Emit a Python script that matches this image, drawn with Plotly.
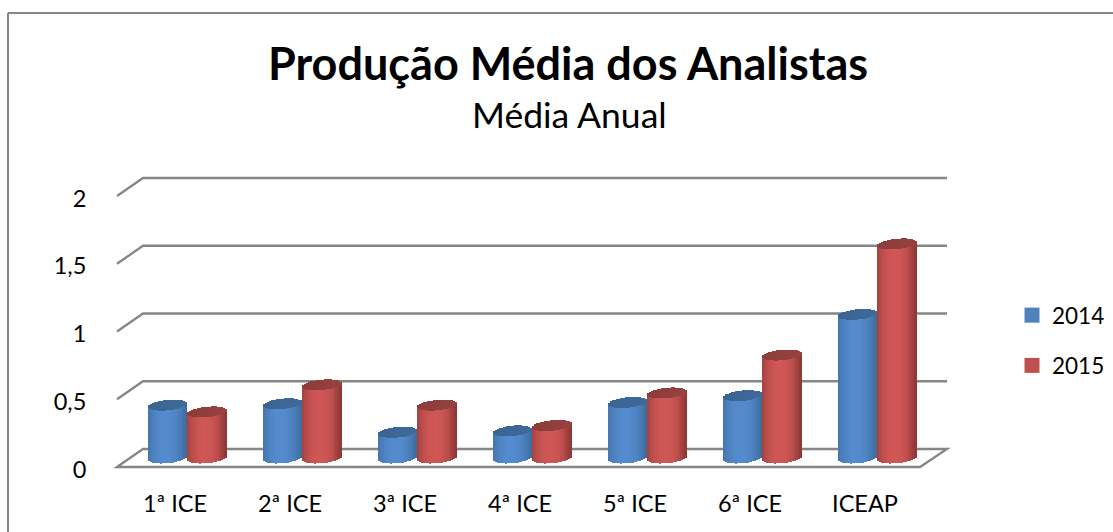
import math
import plotly.graph_objects as go

categories = ["1ª ICE", "2ª ICE", "3ª ICE", "4ª ICE", "5ª ICE", "6ª ICE", "ICEAP"]
values_2014 = [0.39, 0.40, 0.19, 0.20, 0.41, 0.46, 1.06]
values_2015 = [0.34, 0.54, 0.39, 0.24, 0.48, 0.76, 1.58]
y_ticks = [0, 0.5, 1, 1.5, 2]
y_labels = ["0", "0,5", "1", "1,5", "2"]

W, H = 1113, 532
PL, PR, PT, PB = 100, 1110, 170, 475    # plot box in page pixels
X0, XS = 187, 115                       # pixel of category 0, px per category
Y0, YS = 458, 135.5                     # pixel of value 0, px per unit
GRID = "#868686"
FONT = "Lato, Carlito, Calibri, sans-serif"

def dx(px):
    return px / XS

def dy(px):
    return px / YS

xrange_ = [(PL - X0) / XS, (PR - X0) / XS]
yrange_ = [(Y0 - PB) / YS, (Y0 - PT) / YS]
DEPTH = dy(9)
LABEL_DROP = dy(11.5)

R, B, TILT = 19.5, 5.2, 1.8
N = 20

def lerp(a, b, t):
    return "#%02x%02x%02x" % tuple(round(a[k] + (b[k] - a[k]) * t) for k in range(3))

def shade(u, dark, light):
    t = max(0.0, 1 - (abs(u + 0.1) / 1.1) ** 2.2)
    return lerp(dark, light, t)

def cylinder_traces(values, offset_px, dark, light, cap_a, cap_b, name):
    xs, body_base, body_h, body_c = [], [], [], []
    cap_base, cap_h, cap_c = [], [], []
    for i, v in enumerate(values):
        for j in range(N):
            u = -1 + (2 * j + 1) / N
            arc = math.sqrt(max(0, 1 - u * u))
            xs.append(i + dx(offset_px + u * R))
            low = -dy(B * arc) + dy(TILT * u)
            high = v - dy(B * arc) + dy(TILT * u)
            back = v + dy(B * arc) + dy(TILT * u)
            body_base.append(low)
            body_h.append(high - low)
            body_c.append(shade(u, dark, light))
            cap_base.append(high)
            cap_h.append(back - high)
            cap_c.append(lerp(cap_a, cap_b, (u + 1) / 2))
    width = dx(2 * R / N * 1.2)
    common = dict(x=xs, width=width, showlegend=False, hoverinfo="skip", name=name)
    return [
        go.Bar(y=body_h, base=body_base, marker=dict(color=body_c, line_width=0), **common),
        go.Bar(y=cap_h, base=cap_base, marker=dict(color=cap_c, line_width=0), **common),
    ]

fig = go.Figure()
for t in cylinder_traces(values_2014, -19.5, (60, 105, 152), (84, 139, 206), (58, 100, 146), (62, 106, 154), "2014"):
    fig.add_trace(t)
for t in cylinder_traces(values_2015, 20, (137, 54, 52), (207, 87, 85), (140, 60, 58), (150, 66, 64), "2015"):
    fig.add_trace(t)

for name, col in (("2014", "#4F81BD"), ("2015", "#C0504D")):
    fig.add_trace(go.Scatter(x=[None], y=[None], mode="markers", name=name, legendgroup=name,
                             marker=dict(symbol="square", size=15, color=col)))

bl, br = dx(143 - X0), dx(947 - X0)
fl, fr = dx(117 - X0), dx(920 - X0)
shapes = []
for v in y_ticks:
    if v == 0:
        path = f"M {fl} {-DEPTH} L {bl} {DEPTH} L {br} {DEPTH} L {fr} {-DEPTH} Z"
    else:
        path = f"M {fl} {v - DEPTH} L {bl} {v + DEPTH} L {br} {v + DEPTH}"
    shapes.append(dict(type="path", path=path, xref="x", yref="y", layer="below",
                       line=dict(color=GRID, width=2.3)))

def px_x(p):
    return (p - PL) / (PR - PL)

def px_y(p):
    return 1 - (p - PT) / (PB - PT)

# chart frame
shapes.append(dict(type="line", xref="paper", yref="paper", layer="below",
                   x0=px_x(8), x1=px_x(W + 5), y0=px_y(13), y1=px_y(13),
                   line=dict(color=GRID, width=2)))
shapes.append(dict(type="line", xref="paper", yref="paper", layer="below",
                   x0=px_x(8), x1=px_x(8), y0=px_y(13), y1=px_y(H + 5),
                   line=dict(color=GRID, width=2)))

fig.update_layout(
    width=W, height=H, autosize=False,
    margin=dict(l=PL, r=W - PR, t=PT, b=H - PB, pad=0),
    paper_bgcolor="white", plot_bgcolor="rgba(0,0,0,0)",
    barmode="overlay", bargap=0,
    font=dict(family=FONT, color="#000000", size=23),
    shapes=shapes,
    title=dict(text="<b>Produção Média dos Analistas</b>", font=dict(family=FONT, size=45, color="#000000"),
               x=568 / W, xanchor="center", y=1 - 64 / H, yanchor="middle"),
    annotations=[dict(text="Média Anual", xref="paper", yref="paper", x=px_x(569),
                      y=px_y(114), xanchor="center", yanchor="middle", showarrow=False,
                      font=dict(family=FONT, size=35.5, color="#000000"))],
    xaxis=dict(range=xrange_, tickmode="array", tickvals=[i - dx(12) for i in range(len(categories))],
               ticktext=categories, showgrid=False, zeroline=False, showline=False,
               ticks="outside", ticklen=8, tickcolor="rgba(0,0,0,0)", tickfont=dict(size=23.5)),
    yaxis=dict(range=yrange_, tickmode="array", tickvals=[v - LABEL_DROP for v in y_ticks],
               ticktext=y_labels, showgrid=False, zeroline=False, showline=False,
               ticks="outside", ticklen=8, tickcolor="rgba(0,0,0,0)", tickfont=dict(size=23.5)),
    legend=dict(x=px_x(1012), y=px_y(340.5), xanchor="left", yanchor="middle",
                font=dict(size=22.5), tracegroupgap=18, itemwidth=30, bgcolor="rgba(0,0,0,0)"),
)
fig.write_html("out.html", config={"displayModeBar": False},
               post_script="document.body.style.margin='0';")
